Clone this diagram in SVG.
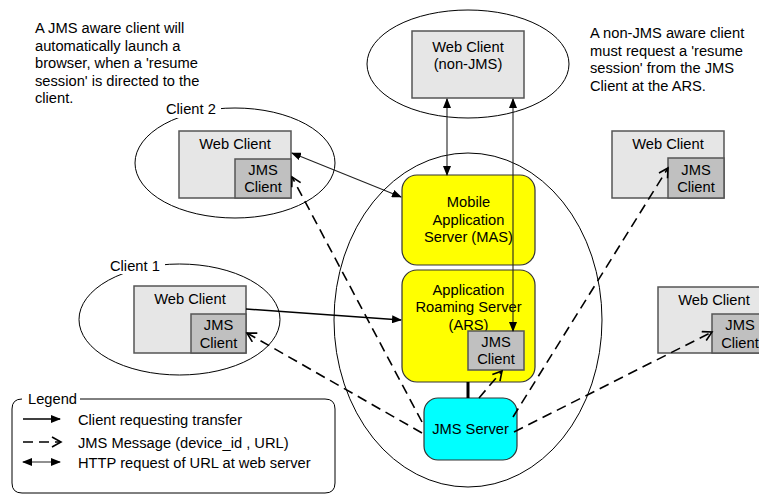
<svg xmlns="http://www.w3.org/2000/svg" width="759" height="494" viewBox="0 0 759 494">
<defs>
<style>
text{font-family:"Liberation Sans",Arial,sans-serif;font-size:14.7px;fill:#000}
.c{text-anchor:middle}
.ell{fill:none;stroke:#000;stroke-width:1}
.web{fill:#e6e6e6;stroke:#555;stroke-width:1.5}
.jms{fill:#c0c0c0;stroke:#555;stroke-width:1.5}
.srv{fill:#ffff00;stroke:#333;stroke-width:1.2}
.cyan{fill:#00ffff;stroke:#333;stroke-width:1.2}
.solid{fill:none;stroke:#000;stroke-width:1.6}
.dbl{fill:none;stroke:#222;stroke-width:1.1}
.dash{fill:none;stroke:#000;stroke-width:1.6;stroke-dasharray:10,6}
.lbl{fill:#fff;stroke:none}
</style>
<marker id="fh" markerUnits="userSpaceOnUse" markerWidth="10" markerHeight="8" refX="9" refY="4" orient="auto-start-reverse">
<path d="M0,0 L10,4 L0,8 z" fill="#000"/>
</marker>
<marker id="oh" markerUnits="userSpaceOnUse" markerWidth="12" markerHeight="12" refX="10" refY="6" orient="auto">
<path d="M1,1 L10,6 L1,11" fill="none" stroke="#000" stroke-width="1.6"/>
</marker>
</defs>

<g id="notes">
<text x="35" y="33">A JMS aware client will</text>
<text x="35" y="51">automatically launch a</text>
<text x="35" y="68">browser, when a 'resume</text>
<text x="35" y="86">session' is directed to the</text>
<text x="35" y="103">client.</text>
<text x="590" y="38">A non-JMS aware client</text>
<text x="590" y="56">must request a 'resume</text>
<text x="590" y="73">session' from the JMS</text>
<text x="590" y="91">Client at the ARS.</text>
</g>

<g id="server-group">
<ellipse class="ell" cx="468" cy="320" rx="134" ry="167"/>
</g>

<g id="web-nonjms">
<ellipse class="ell" cx="468" cy="64" rx="101" ry="54"/>
<rect class="web" x="412" y="31" width="112" height="67"/>
<text class="c" x="468" y="52">Web Client</text>
<text class="c" x="468" y="69">(non-JMS)</text>
</g>

<g id="client2">
<ellipse class="ell" cx="235" cy="163" rx="100" ry="55"/>
<rect class="lbl" x="161" y="100" width="60" height="18"/>
<text x="166" y="114">Client 2</text>
<rect class="web" x="179" y="131" width="112" height="67"/>
<text class="c" x="235" y="149">Web Client</text>
<rect class="jms" x="235" y="159" width="56" height="39"/>
<text class="c" x="263" y="175">JMS</text>
<text class="c" x="263" y="192">Client</text>
</g>

<g id="client1">
<ellipse class="ell" cx="179.5" cy="319.5" rx="100.5" ry="55.5"/>
<rect class="lbl" x="105" y="256" width="60" height="18"/>
<text x="110" y="271">Client 1</text>
<rect class="web" x="134" y="286" width="112" height="67"/>
<text class="c" x="190" y="304">Web Client</text>
<rect class="jms" x="191" y="314" width="55" height="39"/>
<text class="c" x="218.5" y="330">JMS</text>
<text class="c" x="218.5" y="348">Client</text>
</g>

<g id="client-right-top">
<rect class="web" x="612" y="131" width="112" height="67"/>
<text class="c" x="668" y="149">Web Client</text>
<rect class="jms" x="668" y="158" width="56" height="40"/>
<text class="c" x="696" y="175">JMS</text>
<text class="c" x="696" y="192">Client</text>
</g>

<g id="client-right-bottom">
<rect class="web" x="658" y="287" width="112" height="66"/>
<text class="c" x="714" y="305">Web Client</text>
<rect class="jms" x="712" y="314" width="56" height="39"/>
<text class="c" x="740" y="330">JMS</text>
<text class="c" x="740" y="348">Client</text>
</g>

<g id="mas">
<rect class="srv" x="402" y="175" width="133" height="90" rx="15"/>
<text class="c" x="468.5" y="207">Mobile</text>
<text class="c" x="468.5" y="225">Application</text>
<text class="c" x="468.5" y="242">Server (MAS)</text>
</g>

<g id="ars">
<rect class="srv" x="402" y="270" width="133" height="112" rx="15"/>
<text class="c" x="468.5" y="295">Application</text>
<text class="c" x="468.5" y="312">Roaming Server</text>
<text class="c" x="468.5" y="330">(ARS)</text>
<rect class="jms" x="468" y="331" width="56" height="39"/>
<text class="c" x="496" y="347">JMS</text>
<text class="c" x="496" y="364">Client</text>
</g>

<g id="jms-server">
<rect class="cyan" x="424" y="398" width="93" height="62" rx="14"/>
<text class="c" x="470.5" y="434">JMS Server</text>
</g>

<g id="connectors">
<line x1="468" y1="382" x2="468" y2="398" stroke="#000" stroke-width="3"/>
<line class="dbl" x1="447" y1="99" x2="447" y2="175" marker-start="url(#fh)" marker-end="url(#fh)"/>
<line class="dbl" x1="513" y1="99" x2="513" y2="331" marker-start="url(#fh)" marker-end="url(#fh)"/>
<line class="dbl" x1="292" y1="153" x2="401" y2="197" marker-start="url(#fh)" marker-end="url(#fh)"/>
<line class="solid" x1="246" y1="309" x2="401" y2="320" marker-end="url(#fh)"/>
<line class="dash" x1="422" y1="422" x2="292" y2="177" marker-end="url(#oh)"/>
<line class="dash" x1="422" y1="433" x2="247" y2="333" marker-end="url(#oh)"/>
<line class="dash" x1="479" y1="398" x2="502" y2="371" marker-end="url(#oh)"/>
<line class="dash" x1="513" y1="417" x2="668" y2="168" marker-end="url(#oh)"/>
<line class="dash" x1="514" y1="432" x2="712" y2="332" marker-end="url(#oh)"/>
</g>

<g id="legend">
<path d="M22,399 Q12,399 12,409 L12,483 Q12,493 22,493 L325,493 Q335,493 335,483 L335,409 Q335,399 325,399 L80,399" fill="none" stroke="#000" stroke-width="1"/>
<text x="28" y="404">Legend</text>
<line class="solid" x1="23" y1="419" x2="60" y2="419" marker-end="url(#fh)"/>
<text x="78" y="425">Client requesting transfer</text>
<line class="dash" x1="23" y1="442" x2="61" y2="442" marker-end="url(#oh)"/>
<text x="78" y="448">JMS Message (device_id , URL)</text>
<line class="dbl" x1="23" y1="462" x2="60" y2="462" stroke="#000" marker-start="url(#fh)" marker-end="url(#fh)"/>
<text x="78" y="468">HTTP request of URL at web server</text>
</g>
</svg>
